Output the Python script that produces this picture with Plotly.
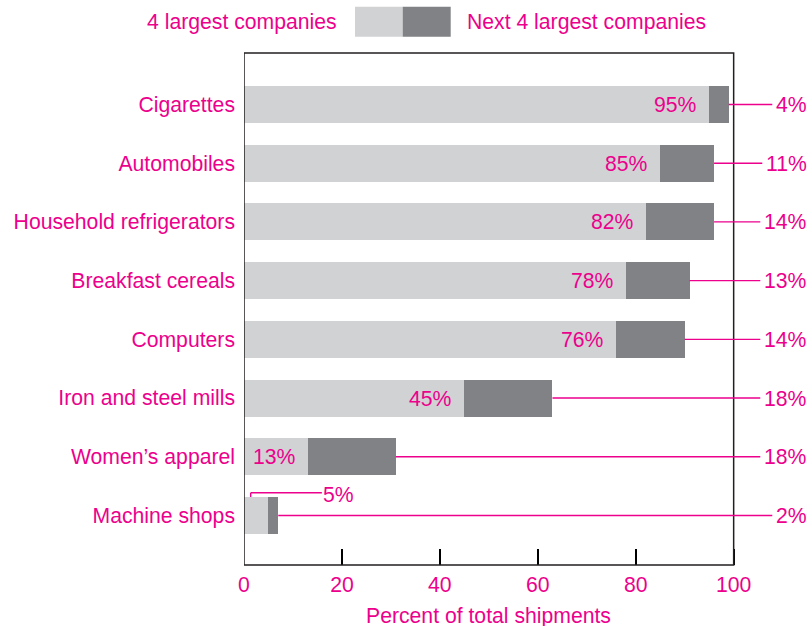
import plotly.graph_objects as go

categories = ["Machine shops", "Women\u2019s apparel", "Iron and steel mills", "Computers",
              "Breakfast cereals", "Household refrigerators", "Automobiles", "Cigarettes"]
top4 = [5, 13, 45, 76, 78, 82, 85, 95]
next4 = [2, 18, 18, 14, 13, 14, 11, 4]
x_ticks = [0, 20, 40, 60, 80, 100]
series_names = ["4 largest companies", "Next 4 largest companies"]
x_title = "Percent of total shipments"

PINK = "#ec008c"
LIGHT = "#d1d2d4"
DARK = "#808285"
FRAME = "#231f20"
FONT = "Liberation Sans, Arial, Helvetica, sans-serif"
FS = 21.2
BAR_W = 0.63

fig = go.Figure()
fig.add_trace(go.Bar(y=categories, x=top4, orientation="h", marker=dict(color=LIGHT, line=dict(width=0)),
                     width=BAR_W, name=series_names[0], showlegend=False, hoverinfo="x+y"))
fig.add_trace(go.Bar(y=categories, x=next4, orientation="h", marker=dict(color=DARK, line=dict(width=0)),
                     width=BAR_W, name=series_names[1], showlegend=False, hoverinfo="x+y"))

annotations = []
shapes = []
for i, (c, a, b) in enumerate(zip(categories, top4, next4)):
    # right-hand labels with leader lines from end of stacked bar
    annotations.append(dict(x=a + b, y=c, xref="x", yref="y", text=f"{b}%",
                            showarrow=True, arrowhead=0, arrowwidth=1.4, arrowcolor=PINK,
                            ax=115.75, axref="x", ay=0, ayref="pixel", xanchor="right",
                            standoff=0, borderpad=3, font=dict(color=PINK, size=FS, family=FONT)))
    if i == 0:
        # small bar: label outside with bracket
        ly = i + BAR_W / 2 + 0.073
        shapes.append(dict(type="line", xref="x", yref="y", x0=1.37, x1=1.37, y0=i + BAR_W / 2, y1=ly,
                           line=dict(color=PINK, width=1.4)))
        shapes.append(dict(type="line", xref="x", yref="y", x0=1.37, x1=15.9, y0=ly, y1=ly,
                           line=dict(color=PINK, width=1.4)))
        annotations.append(dict(x=15.9, y=i + 0.35, xref="x", yref="y", text=f"{a}%", showarrow=False,
                                xanchor="left", yanchor="middle", borderpad=0,
                                font=dict(color=PINK, size=FS, family=FONT)))
    else:
        annotations.append(dict(x=a, y=c, xref="x", yref="y", text=f"{a}%", showarrow=False,
                                xanchor="right", xshift=-10, yanchor="middle",
                                font=dict(color=PINK, size=FS, family=FONT)))

# frame around the plotting region (0..100)
shapes.append(dict(type="rect", xref="x", yref="paper", x0=0, x1=100, y0=0, y1=1,
                   line=dict(color=FRAME, width=1.5), layer="above"))

# legend (custom)
annotations.append(dict(x=0.1655, y=1.0605, xref="paper", yref="paper", text=series_names[0],
                        showarrow=False, xanchor="right", yanchor="middle", borderpad=0,
                        font=dict(color=PINK, size=FS, family=FONT)))
annotations.append(dict(x=0.3908, y=1.0605, xref="paper", yref="paper", text=series_names[1],
                        showarrow=False, xanchor="left", yanchor="middle", borderpad=0,
                        font=dict(color=PINK, size=FS, family=FONT)))
shapes.append(dict(type="rect", xref="paper", yref="paper", x0=0.1954, x1=0.2794, y0=1.0318, y1=1.0904,
                   fillcolor=LIGHT, line=dict(width=0)))
shapes.append(dict(type="rect", xref="paper", yref="paper", x0=0.2794, x1=0.3639, y0=1.0318, y1=1.0904,
                   fillcolor=DARK, line=dict(width=0)))

# x-axis title
annotations.append(dict(x=50, y=-0.1, xref="x", yref="paper", text=x_title, showarrow=False,
                        xanchor="center", yanchor="middle", font=dict(color=PINK, size=FS, family=FONT)))

fig.update_layout(
    width=812, height=626,
    margin=dict(l=244, r=0, t=53, b=61, autoexpand=False),
    barmode="stack",
    plot_bgcolor="white", paper_bgcolor="white",
    font=dict(family=FONT, size=FS, color=PINK),
    annotations=annotations, shapes=shapes,
    xaxis=dict(range=[0, 116], tickvals=x_ticks, ticktext=[str(v) for v in x_ticks],
               ticks="inside", ticklen=16, tickwidth=2, tickcolor="#000000",
               showgrid=False, zeroline=False, showline=False, ticklabelstandoff=5,
               tickfont=dict(color=PINK, size=FS, family=FONT), fixedrange=True),
    yaxis=dict(type="category", categoryorder="array", categoryarray=categories,
               range=[-0.843, 7.877], showgrid=False, zeroline=False, showline=False,
               ticks="", ticklabelstandoff=8,
               tickfont=dict(color=PINK, size=FS, family=FONT), fixedrange=True),
)

fig.write_html("out.html", config={"displayModeBar": False},
               post_script="document.body.style.margin='0';document.body.style.overflow='hidden';")
